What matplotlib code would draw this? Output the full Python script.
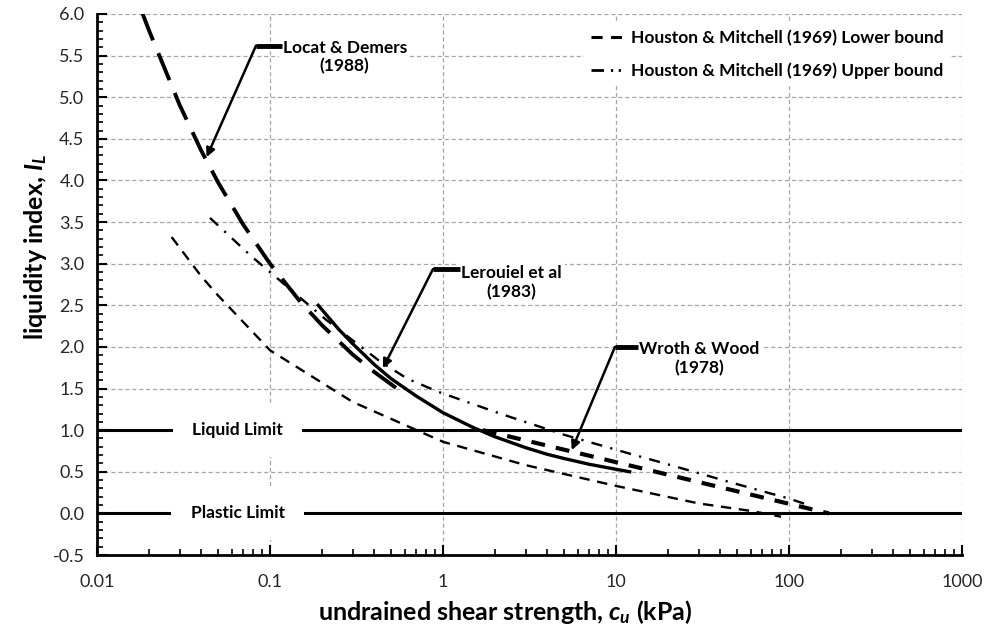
import matplotlib
matplotlib.use('Agg')
import matplotlib.pyplot as plt
from matplotlib.ticker import LogLocator, MultipleLocator, FixedLocator, FixedFormatter, NullFormatter

plt.rcParams['font.family'] = ['Lato', 'DejaVu Sans']
plt.rcParams['mathtext.fontset'] = 'custom'
plt.rcParams['mathtext.it'] = 'Lato:bold:italic'
plt.rcParams['mathtext.rm'] = 'Lato:bold'
plt.rcParams['mathtext.bf'] = 'Lato:bold'
plt.rcParams['lines.scale_dashes'] = False

# ---------------- data ----------------
locat_cu = [0.0183, 0.02, 0.03, 0.04, 0.05, 0.07, 0.1, 0.15, 0.2, 0.3, 0.4, 0.55]
locat_il = [6.01, 5.80, 4.91, 4.36, 3.98, 3.47, 3.00, 2.54, 2.26, 1.91, 1.70, 1.49]

leroueil_cu = [0.19, 0.25, 0.3, 0.4, 0.5, 0.7, 1, 1.5, 2, 3, 4, 5, 7, 10, 12]
leroueil_il = [2.50, 2.21, 2.04, 1.79, 1.62, 1.41, 1.21, 1.03, 0.92, 0.79, 0.71, 0.66, 0.59, 0.53, 0.50]

wroth_cu = [1.7, 170]
wroth_il = [1.0, 0.0]

hm_lower_cu = [0.027, 0.04, 0.05, 0.1, 0.3, 1, 3, 10, 30, 60, 90]
hm_lower_il = [3.32, 2.85, 2.62, 1.96, 1.34, 0.86, 0.58, 0.33, 0.12, 0.03, -0.04]

hm_upper_cu = [0.045, 0.077, 0.108, 0.21, 0.30, 0.43, 0.62, 0.94, 2.2, 5.1, 11.9, 18.4, 28.2, 43, 66.5, 103, 125]
hm_upper_il = [3.55, 3.10, 2.84, 2.33, 2.08, 1.83, 1.62, 1.46, 1.19, 0.94, 0.72, 0.61, 0.50, 0.39, 0.28, 0.17, 0.11]

liquid_limit = 1.0
plastic_limit = 0.0

x_ticks = [0.01, 0.1, 1, 10, 100, 1000]
x_tick_labels = ['0.01', '0.1', '1', '10', '100', '1000']
y_ticks = [-0.5, 0.0, 0.5, 1.0, 1.5, 2.0, 2.5, 3.0, 3.5, 4.0, 4.5, 5.0, 5.5, 6.0]
y_tick_labels = ['%.1f' % v for v in y_ticks]

legend_labels = ['Houston & Mitchell (1969) Lower bound',
                 'Houston & Mitchell (1969) Upper bound']

# annotation placements (data coords): text y, elbow, bar end (text starts there), arrow target
ann_locat = dict(text='Locat & Demers\n(1988)', ty=5.48, elbow=(0.083, 5.62), bar=0.117, tip=(0.043, 4.28))
ann_ler = dict(text='Lerouiel et al\n(1983)', ty=2.77, elbow=(0.875, 2.935), bar=1.25, tip=(0.45, 1.745))
ann_wroth = dict(text='Wroth & Wood\n(1978)', ty=1.86, elbow=(9.86, 2.0), bar=13.4, tip=(5.55, 0.76))

# ---------------- figure ----------------
fig = plt.figure(figsize=(9.87, 6.34), dpi=100)
ax = fig.add_axes([97/987, 1 - 555/634, 865/987, 541/634])
ax.set_xscale('log')
ax.set_xlim(0.01, 1000)
ax.set_ylim(-0.5, 6.0)

grid_kw = dict(color='#a6a6a6', lw=0.9, ls=(0, (3, 2)))
ax.grid(True, which='major', axis='both', **grid_kw)
ax.set_axisbelow(True)

for s in ['top', 'right']:
    ax.spines[s].set_visible(False)
for s in ['left', 'bottom']:
    ax.spines[s].set_linewidth(2.0)

ax.xaxis.set_major_locator(FixedLocator(x_ticks))
ax.xaxis.set_major_formatter(FixedFormatter(x_tick_labels))
ax.xaxis.set_minor_locator(LogLocator(base=10, subs=range(2, 10)))
ax.xaxis.set_minor_formatter(NullFormatter())
ax.yaxis.set_major_locator(FixedLocator(y_ticks))
ax.yaxis.set_major_formatter(FixedFormatter(y_tick_labels))
ax.yaxis.set_minor_locator(MultipleLocator(0.1))

ax.tick_params(which='major', direction='in', length=7, width=1.5, labelsize=13,
               labelcolor='#262626', pad=9)
ax.tick_params(which='minor', direction='in', length=4, width=1.2)
ax.tick_params(axis='x', which='major', pad=14)

# limit lines
ax.axhline(liquid_limit, color='k', lw=2.2, zorder=2)
ax.axhline(plastic_limit, color='k', lw=2.2, zorder=2)
lim_box = dict(boxstyle='square,pad=1.1', fc='white', ec='none')
ax.text(0.065, liquid_limit, 'Liquid Limit', ha='center', va='center', fontsize=12.5,
        fontweight='bold', bbox=lim_box, zorder=3)
ax.text(0.065, plastic_limit, 'Plastic Limit', ha='center', va='center', fontsize=12.5,
        fontweight='bold', bbox=lim_box, zorder=3)

# curves
ax.plot(hm_lower_cu, hm_lower_il, color='k', lw=1.7, dashes=(7.5, 5.5), zorder=4)
l_low, = ax.plot([], [], color='k', lw=2.2, dashes=(8, 6))
ax.plot(hm_upper_cu, hm_upper_il, color='k', lw=1.7, dashes=(8, 6, 1.6, 6), zorder=4)
l_up, = ax.plot([], [], color='k', lw=2.0, dashes=(9, 5, 1.6, 4, 1.6, 4))
ax.plot(wroth_cu, wroth_il, color='k', lw=3.0, dashes=(10, 8), zorder=5)
ax.plot(locat_cu, locat_il, color='k', lw=2.8, dashes=(21, 10), zorder=5)
ax.plot(leroueil_cu, leroueil_il, color='k', lw=2.4, zorder=6)

# annotations
for a in (ann_locat, ann_ler, ann_wroth):
    ax.text(a['bar'] * 1.01, a['ty'], a['text'], ha='left', va='center', fontsize=12.5,
            fontweight='bold', multialignment='center', linespacing=1.2,
            bbox=dict(boxstyle='square,pad=0.2', fc='white', ec='none'), zorder=7)
    ax.plot([a['elbow'][0], a['bar']], [a['elbow'][1], a['elbow'][1]], color='k',
            lw=3.5, solid_capstyle='butt', zorder=8)
    ax.annotate('', xy=a['tip'], xytext=a['elbow'],
                arrowprops=dict(arrowstyle='-|>', color='k', lw=1.8, mutation_scale=13,
                                shrinkA=0, shrinkB=0), zorder=8)

leg = ax.legend([l_low, l_up], legend_labels, loc='upper right', bbox_to_anchor=(0.997, 1.0),
                frameon=True, framealpha=1, facecolor='white', edgecolor='none', fancybox=False,
                prop=dict(weight='bold', size=12.5), handlelength=2.0, handletextpad=0.3,
                labelspacing=0.95, borderpad=0.4)
leg.set_zorder(9)

ax.set_xlabel('undrained shear strength, $c_u$ (kPa)', fontsize=18, fontweight='bold')
ax.set_ylabel('liquidity index, $I_L$', fontsize=18, fontweight='bold')
ax.xaxis.set_label_coords(0.472, -0.08)
ax.yaxis.set_label_coords(-0.055, 0.57)

fig.savefig('out.png', dpi=100)
